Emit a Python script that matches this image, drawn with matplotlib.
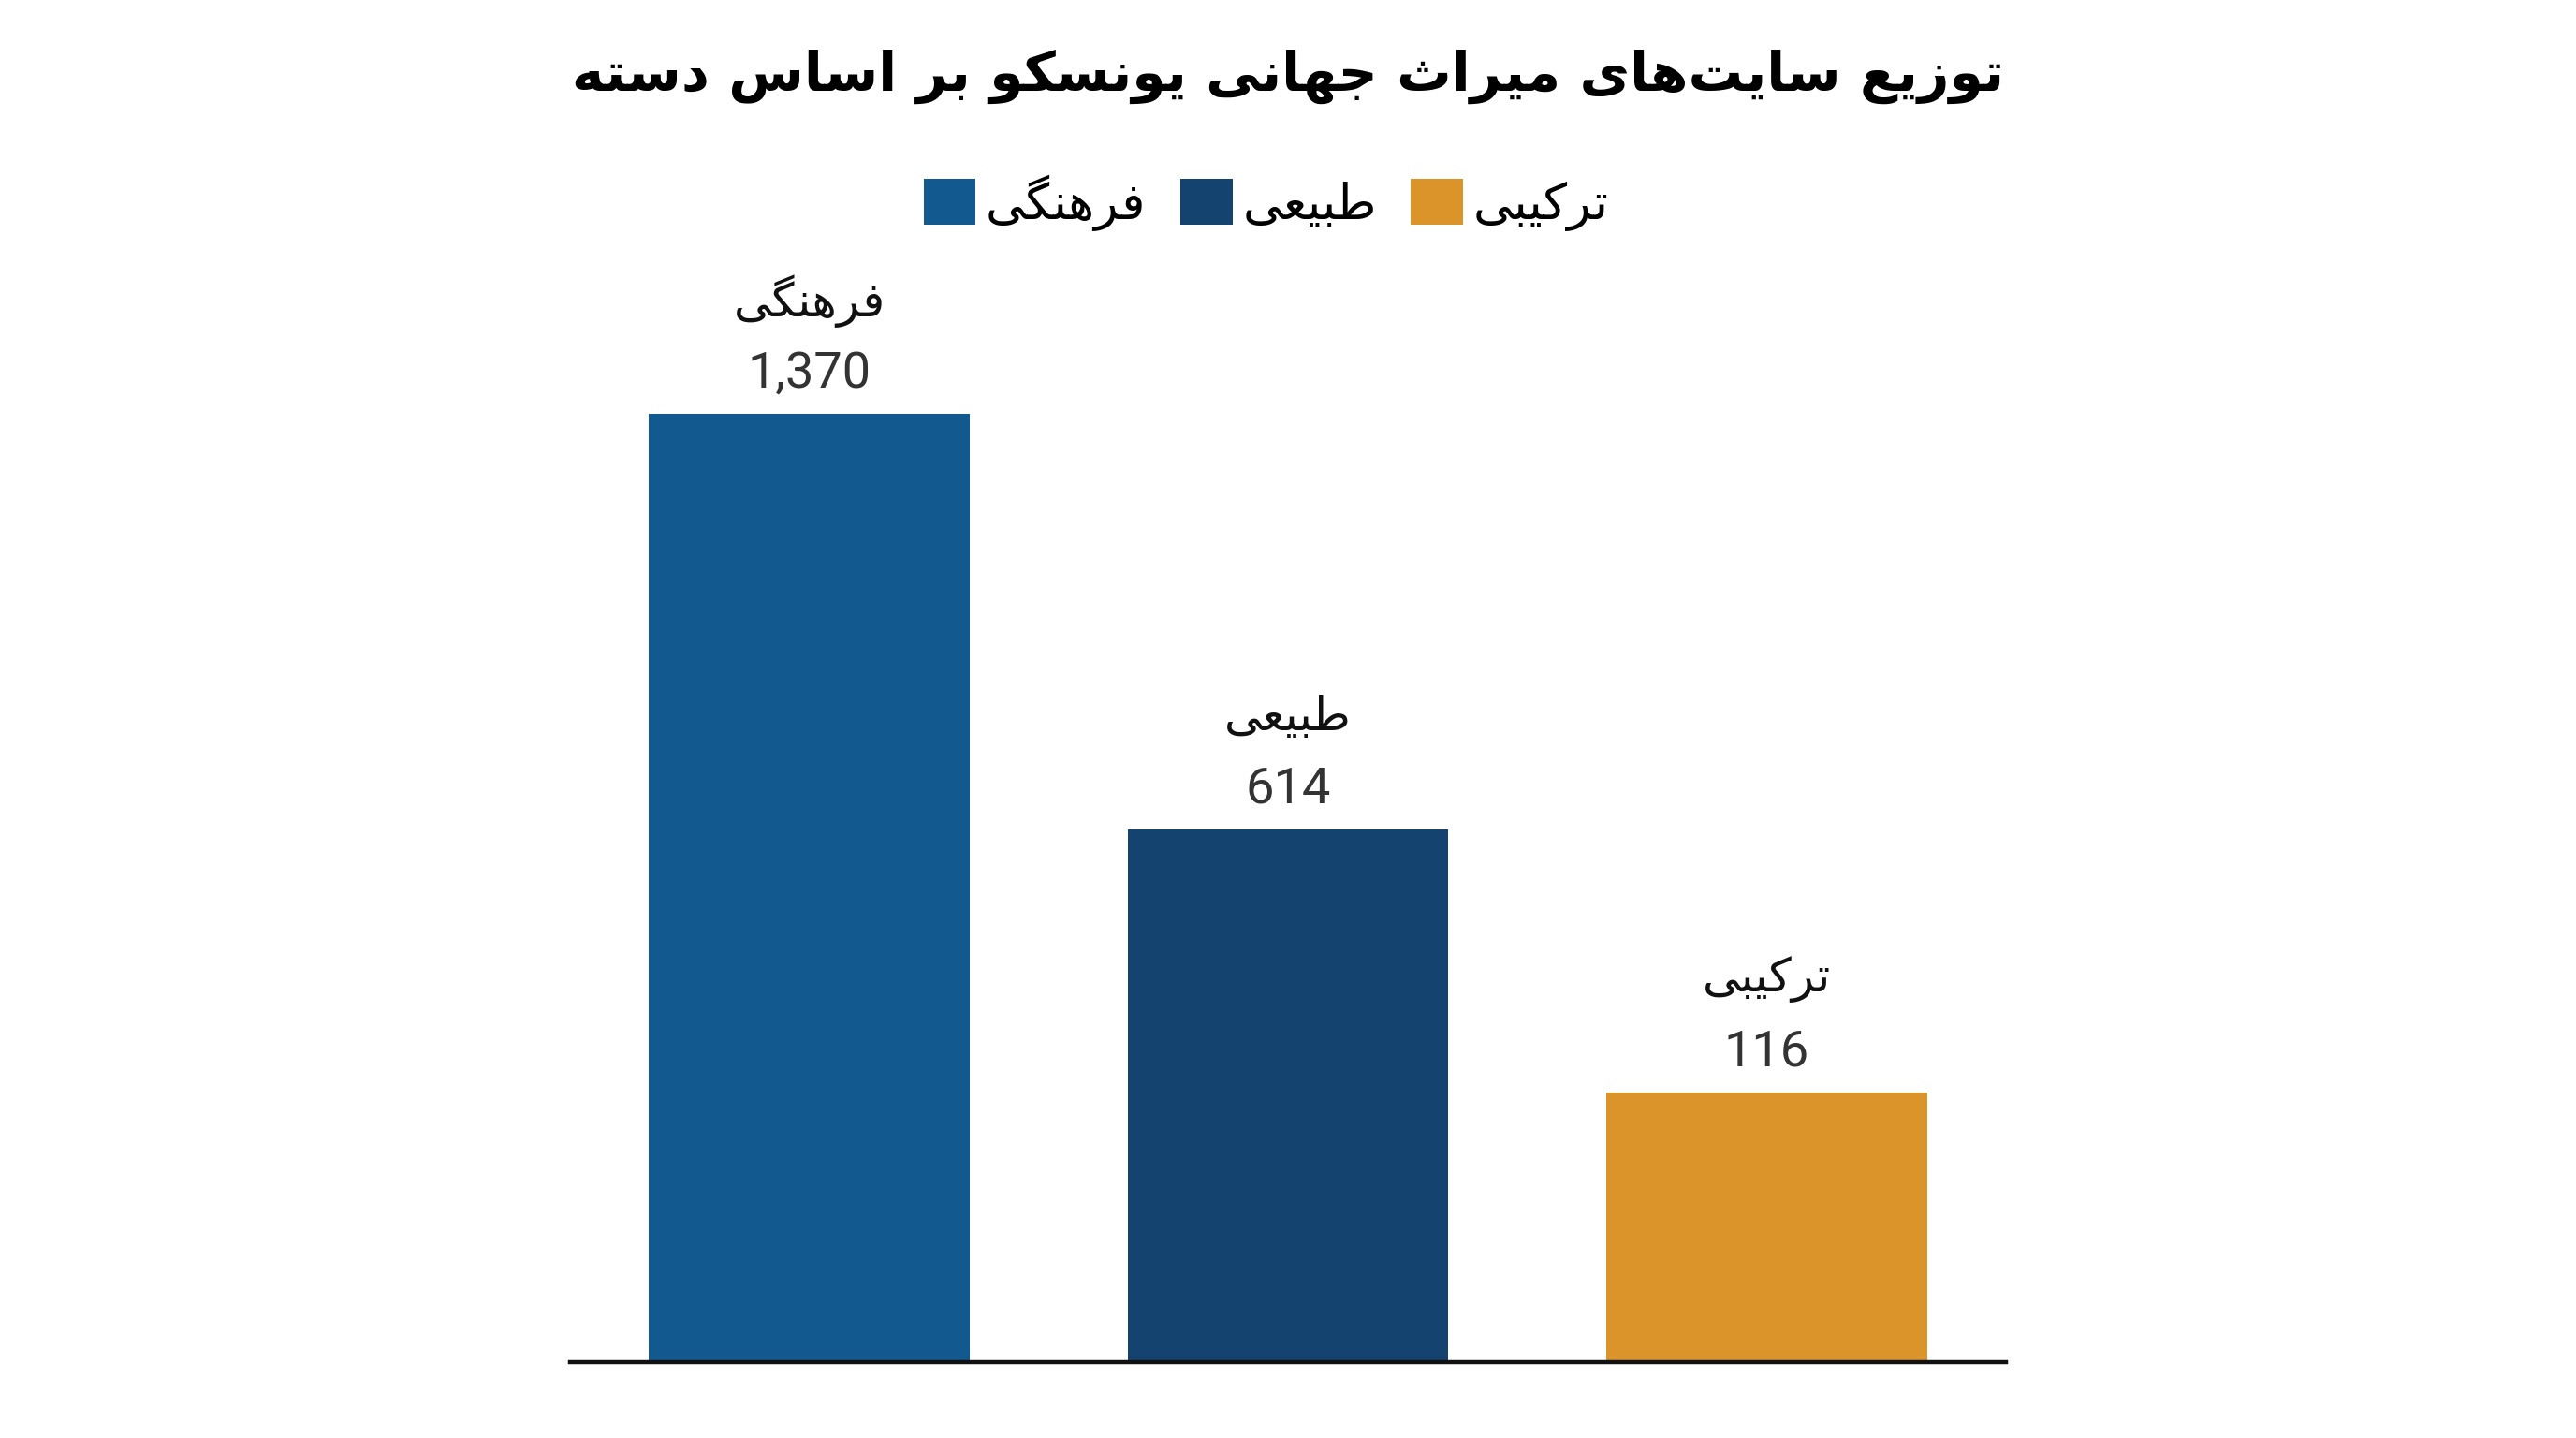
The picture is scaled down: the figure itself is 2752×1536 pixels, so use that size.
import matplotlib
matplotlib.use("Agg")
import matplotlib.pyplot as plt
from matplotlib.patches import Patch

# --- data ---
categories = ["فرهنگی", "طبیعی", "ترکیبی"]
values = [1370, 614, 116]
# bar heights as drawn in the source picture (it is not to scale)
bar_heights = [1370, 769, 390]
colors = ["#11598F", "#13436E", "#DA9429"]
title = "توزیع سایت‌های میراث جهانی یونسکو بر اساس دسته"

# matplotlib has no arabic shaping, so do a small one by hand
FORMS = {
    "ا": ("\uFE8D", "\uFE8E", None, None),
    "ب": ("\uFE8F", "\uFE90", "\uFE91", "\uFE92"),
    "ت": ("\uFE95", "\uFE96", "\uFE97", "\uFE98"),
    "ث": ("\uFE99", "\uFE9A", "\uFE9B", "\uFE9C"),
    "ج": ("\uFE9D", "\uFE9E", "\uFE9F", "\uFEA0"),
    "د": ("\uFEA9", "\uFEAA", None, None),
    "ر": ("\uFEAD", "\uFEAE", None, None),
    "ز": ("\uFEAF", "\uFEB0", None, None),
    "س": ("\uFEB1", "\uFEB2", "\uFEB3", "\uFEB4"),
    "ط": ("\uFEC1", "\uFEC2", "\uFEC3", "\uFEC4"),
    "ع": ("\uFEC9", "\uFECA", "\uFECB", "\uFECC"),
    "ف": ("\uFED1", "\uFED2", "\uFED3", "\uFED4"),
    "ک": ("\uFB8E", "\uFB8F", "\uFB90", "\uFB91"),
    "گ": ("\uFB92", "\uFB93", "\uFB94", "\uFB95"),
    "م": ("\uFEE1", "\uFEE2", "\uFEE3", "\uFEE4"),
    "ن": ("\uFEE5", "\uFEE6", "\uFEE7", "\uFEE8"),
    "ه": ("\uFEE9", "\uFEEA", "\uFEEB", "\uFEEC"),
    "و": ("\uFEED", "\uFEEE", None, None),
    "ی": ("\uFBFC", "\uFBFD", "\uFBFE", "\uFBFF"),
}


def dual(c):
    return c in FORMS and FORMS[c][2] is not None


def fa(s):
    out = []
    for i, c in enumerate(s):
        if c not in FORMS:
            if c != "\u200c":
                out.append(c)
            continue
        prev = s[i - 1] if i > 0 else ""
        nxt = s[i + 1] if i + 1 < len(s) else ""
        p = dual(prev)
        n = dual(c) and nxt in FORMS
        iso, fin, ini, med = FORMS[c]
        if p and n:
            out.append(med)
        elif p:
            out.append(fin)
        elif n:
            out.append(ini)
        else:
            out.append(iso)
    return "".join(reversed(out))


plt.rcParams["font.family"] = ["Roboto", "DejaVu Sans"]

fig = plt.figure(figsize=(13.76, 7.68), dpi=200)
ax = fig.add_axes([0.2213, 0.0527, 0.5574, 0.6595])

x = range(len(categories))
bars = ax.bar(x, bar_heights, width=0.67, color=colors, zorder=2)

for xi, h, cat, v in zip(x, bar_heights, categories, values):
    ax.annotate(f"{v:,}", (xi, h), xytext=(0, 15.5), textcoords="offset points",
                ha="center", va="center", fontsize=19.5, color="#333333",
                annotation_clip=False)
    ax.annotate(fa(cat), (xi, h), xytext=(0, 43.5), textcoords="offset points",
                ha="center", va="center", fontsize=18, color="#111111",
                family="DejaVu Sans", annotation_clip=False)

ax.set_xlim(-0.5, 2.5)
ax.set_ylim(0, 1370)
for s in ["top", "right", "left"]:
    ax.spines[s].set_visible(False)
ax.spines["bottom"].set_linewidth(1.6)
ax.spines["bottom"].set_color("#111111")
ax.set_xticks([])
ax.set_yticks([])

handles = [Patch(facecolor=c, label=fa(cat)) for c, cat in zip(colors, categories)]
fig.legend(handles=handles, loc="center", bbox_to_anchor=(0.4915, 0.859), ncol=3,
           frameon=False, handlelength=1.05, handleheight=1.05,
           handletextpad=0.2, columnspacing=0.7,
           prop={"family": "DejaVu Sans", "size": 19})

fig.text(0.5, 0.947, fa(title), ha="center", va="center", fontsize=21,
         fontweight="bold", family="DejaVu Sans", color="black")

fig.savefig("out.png", dpi=200, facecolor="white")
